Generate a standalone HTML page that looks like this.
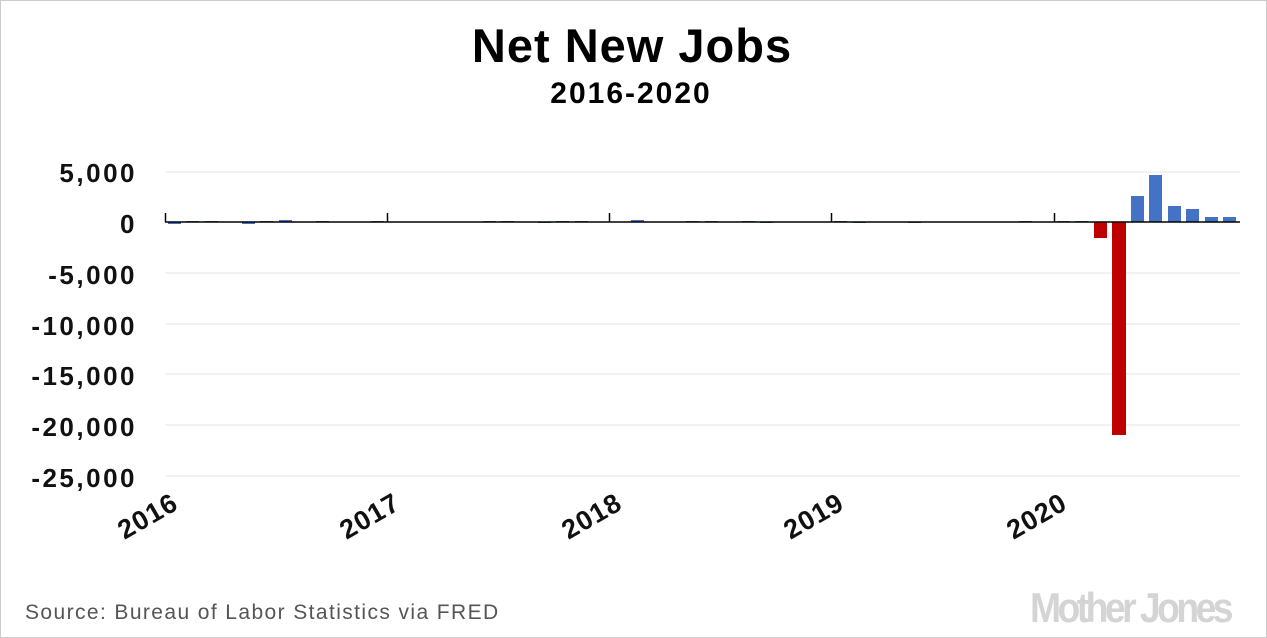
<!DOCTYPE html>
<html><head><style>
body{margin:0;background:#fff;}
.wrap{width:1265px;height:636px;border:1px solid #ccc;position:relative;overflow:hidden;}
</style></head><body><div class="wrap">
<svg width="1267" height="638" xmlns="http://www.w3.org/2000/svg" style="position:absolute;left:-1px;top:-1px">
<text x="632" y="62" text-anchor="middle" font-family="Liberation Sans, sans-serif" font-weight="bold" font-size="47" letter-spacing="1">Net New Jobs</text>
<text x="631" y="103" text-anchor="middle" font-family="Liberation Sans, sans-serif" font-weight="bold" font-size="30" letter-spacing="2">2016-2020</text>
<g stroke="#e6e6e6" stroke-width="1">
<line x1="165" x2="1240" y1="172" y2="172"/>
<line x1="165" x2="1240" y1="273" y2="273"/>
<line x1="165" x2="1240" y1="324" y2="324"/>
<line x1="165" x2="1240" y1="374" y2="374"/>
<line x1="165" x2="1240" y1="425" y2="425"/>
<line x1="165" x2="1240" y1="476" y2="476"/>
</g>
<g font-family="Liberation Sans, sans-serif" font-weight="bold" font-size="26" text-anchor="end" fill="#111" letter-spacing="2.5">
<text x="137" y="182">5,000</text>
<text x="137" y="233">0</text>
<text x="137" y="284">-5,000</text>
<text x="137" y="335">-10,000</text>
<text x="137" y="385">-15,000</text>
<text x="137" y="436">-20,000</text>
<text x="137" y="487">-25,000</text>
</g>
<g fill="#4472c4">
<rect x="168" y="222" width="13" height="2"/>
<rect x="186" y="221" width="13" height="1"/>
<rect x="205" y="221" width="13" height="1"/>
<rect x="242" y="222" width="13" height="2"/>
<rect x="260" y="221" width="13" height="1"/>
<rect x="279" y="220" width="13" height="2"/>
<rect x="316" y="221" width="13" height="1"/>
<rect x="371" y="221" width="13" height="1"/>
<rect x="483" y="221" width="13" height="1"/>
<rect x="501" y="221" width="13" height="1"/>
<rect x="538" y="222" width="13" height="1"/>
<rect x="556" y="221" width="13" height="1"/>
<rect x="575" y="221" width="13" height="1"/>
<rect x="631" y="220" width="13" height="2"/>
<rect x="686" y="221" width="13" height="1"/>
<rect x="705" y="221" width="13" height="1"/>
<rect x="742" y="221" width="13" height="1"/>
<rect x="760" y="222" width="13" height="1"/>
<rect x="834" y="221" width="13" height="1"/>
<rect x="853" y="222" width="13" height="1"/>
<rect x="908" y="222" width="13" height="1"/>
<rect x="1019" y="221" width="13" height="1"/>
<rect x="1057" y="221" width="13" height="1"/>
<rect x="1075" y="221" width="13" height="1"/>
<rect x="1131" y="196" width="13" height="26"/>
<rect x="1149" y="175" width="13" height="47"/>
<rect x="1168" y="206" width="13" height="16"/>
<rect x="1186" y="209" width="13" height="13"/>
<rect x="1205" y="217" width="13" height="5"/>
<rect x="1223" y="217" width="13" height="5"/>
</g>
<g fill="#c00000">
<rect x="1094" y="222" width="13" height="16"/>
<rect x="1112" y="222" width="14" height="213"/>
</g>
<g stroke="#000" stroke-width="1.5">
<line x1="165" x2="1240" y1="222" y2="222"/>
<line x1="165.5" x2="165.5" y1="213" y2="222"/>
<line x1="387.5" x2="387.5" y1="213" y2="222"/>
<line x1="609.5" x2="609.5" y1="213" y2="222"/>
<line x1="831.5" x2="831.5" y1="213" y2="222"/>
<line x1="1054.5" x2="1054.5" y1="213" y2="222"/>
</g>
<g font-family="Liberation Sans, sans-serif" font-weight="bold" font-size="27" text-anchor="end" fill="#111" letter-spacing="1">
<text transform="translate(180,508) rotate(-30)">2016</text>
<text transform="translate(402,508) rotate(-30)">2017</text>
<text transform="translate(624,508) rotate(-30)">2018</text>
<text transform="translate(846,508) rotate(-30)">2019</text>
<text transform="translate(1069,508) rotate(-30)">2020</text>
</g>
<text x="25" y="619" font-family="Liberation Sans, sans-serif" font-size="21" fill="#555" letter-spacing="1.4">Source: Bureau of Labor Statistics via FRED</text>
<text x="1230" y="622" text-anchor="end" font-family="Liberation Sans, sans-serif" font-weight="bold" font-size="42" fill="#d4d4d4" letter-spacing="-4" textLength="200" lengthAdjust="spacingAndGlyphs">Mother Jones</text>
</svg>
</div></body></html>
